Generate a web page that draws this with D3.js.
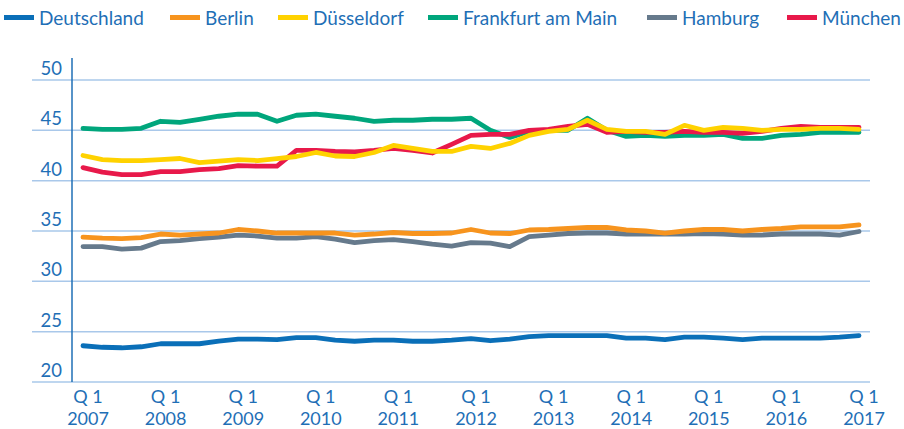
<!DOCTYPE html>
<html>
<head>
<meta charset="utf-8">
<script src="https://cdn.jsdelivr.net/npm/d3@7"></script>
<style>
  body { margin: 0; background: #fff; }
  text { font-family: Lato, "Open Sans", sans-serif; fill: #1f6fb6; }
</style>
</head>
<body>
<div class="chart"></div>
<script>
var w = 904;
var h = 429;

var years = ["2007", "2008", "2009", "2010", "2011", "2012", "2013", "2014", "2015", "2016", "2017"];
var yTicks = [20, 25, 30, 35, 40, 45, 50];

var names = ["Deutschland", "Berlin", "Düsseldorf", "Frankfurt am Main", "Hamburg", "München"];
var colors = ["#0a6fb8", "#f7941e", "#ffd200", "#00a67c", "#667a8c", "#e8194a"];

var deutschland = [23.6, 23.45, 23.4, 23.5, 23.8, 23.8, 23.8, 24.05, 24.25, 24.25, 24.2, 24.4, 24.4, 24.15, 24.05, 24.15, 24.15, 24.05, 24.05, 24.15,
  24.3, 24.1, 24.25, 24.5, 24.6, 24.6, 24.6, 24.6, 24.35, 24.35, 24.2, 24.45, 24.45, 24.35, 24.2, 24.35, 24.35, 24.35, 24.35, 24.45, 24.6];
var berlin = [34.4, 34.3, 34.25, 34.35, 34.7, 34.6, 34.7, 34.8, 35.15, 35.0, 34.8, 34.8, 34.8, 34.8, 34.6, 34.7, 34.85, 34.75, 34.75, 34.8,
  35.15, 34.8, 34.75, 35.1, 35.15, 35.25, 35.35, 35.35, 35.1, 35.0, 34.8, 35.0, 35.15, 35.15, 35.0, 35.15, 35.25, 35.4, 35.4, 35.4, 35.6];
var duesseldorf = [42.5, 42.1, 42.0, 42.0, 42.1, 42.2, 41.8, 41.95, 42.1, 42.0, 42.2, 42.4, 42.8, 42.45, 42.4, 42.8, 43.5, 43.2, 42.9, 42.9,
  43.4, 43.2, 43.7, 44.5, 44.9, 45.1, 46.0, 45.1, 44.9, 44.9, 44.6, 45.5, 45.0, 45.3, 45.2, 45.0, 45.1, 45.1, 45.2, 45.2, 45.1];
var frankfurt = [45.2, 45.1, 45.1, 45.2, 45.9, 45.8, 46.1, 46.4, 46.6, 46.6, 45.9, 46.5, 46.6, 46.4, 46.2, 45.9, 46.0, 46.0, 46.1, 46.1,
  46.2, 45.0, 44.3, 44.9, 45.0, 45.0, 46.2, 45.0, 44.4, 44.5, 44.4, 44.5, 44.5, 44.6, 44.2, 44.2, 44.5, 44.6, 44.8, 44.8, 44.8];
var hamburg = [33.45, 33.45, 33.2, 33.3, 33.95, 34.05, 34.25, 34.4, 34.6, 34.5, 34.3, 34.3, 34.45, 34.2, 33.85, 34.05, 34.15, 33.95, 33.7, 33.5,
  33.85, 33.8, 33.45, 34.45, 34.6, 34.75, 34.8, 34.8, 34.7, 34.7, 34.7, 34.7, 34.75, 34.7, 34.6, 34.6, 34.7, 34.7, 34.7, 34.6, 34.95];
var muenchen = [41.3, 40.85, 40.6, 40.6, 40.9, 40.9, 41.1, 41.2, 41.5, 41.45, 41.45, 43.0, 43.0, 42.9, 42.85, 43.0, 43.2, 43.0, 42.75, 43.6,
  44.5, 44.6, 44.6, 45.0, 45.1, 45.4, 45.6, 44.8, 44.9, 44.8, 44.8, 44.9, 44.8, 44.8, 44.7, 44.9, 45.2, 45.4, 45.3, 45.3, 45.3];

var seriesValues = [deutschland, berlin, duesseldorf, frankfurt, hamburg, muenchen];
// drawing order, last one on top
var drawOrder = [0, 4, 3, 5, 1, 2];
// legend item left edges
var legendX = [4, 170, 278, 428, 647, 787];

var xScale = d3.scaleLinear()
    .domain([0, deutschland.length - 1])
    .range([83, 859]);

var yScale = d3.scaleLinear()
    .domain([20, 50])
    .range([382, 80]);

var svg = d3.select(".chart")
    .append("svg")
    .attr("width", w)
    .attr("height", h);

// gridlines
svg.selectAll("line.grid")
    .data(yTicks)
    .enter()
    .append("line")
    .attr("class", "grid")
    .attr("x1", 32)
    .attr("x2", 870)
    .attr("y1", function(d) { return yScale(d); })
    .attr("y2", function(d) { return yScale(d); })
    .attr("stroke", "#a9c8ea")
    .attr("stroke-width", 1.5);

svg.selectAll("text.ytick")
    .data(yTicks)
    .enter()
    .append("text")
    .attr("class", "ytick")
    .attr("x", 62)
    .attr("y", function(d) { return yScale(d) - 5; })
    .attr("text-anchor", "end")
    .style("font-size", "18.5px")
    .text(function(d) { return d; });

// vertical axis line
svg.append("line")
    .attr("x1", 72)
    .attr("x2", 72)
    .attr("y1", 58)
    .attr("y2", yScale(20))
    .attr("stroke", "#1f6fb6")
    .attr("stroke-width", 1.5);

// x labels
var xl = svg.selectAll("text.xtick")
    .data(years)
    .enter()
    .append("text")
    .attr("class", "xtick")
    .attr("text-anchor", "middle")
    .style("font-size", "18px")
    .attr("transform", function(d, i) {
        return "translate(" + (xScale(i * 4) + 5) + ",0)";
    });
xl.append("tspan").attr("x", 0).attr("y", 403).text("Q 1");
xl.append("tspan").attr("x", 0).attr("y", 425).text(function(d) { return d; });

var line = d3.line()
    .x(function(d, i) { return xScale(i); })
    .y(function(d) { return yScale(d); });

svg.selectAll("path.series")
    .data(drawOrder)
    .enter()
    .append("path")
    .attr("class", "series")
    .attr("d", function(k) { return line(seriesValues[k]); })
    .attr("fill", "none")
    .attr("stroke", function(k) { return colors[k]; })
    .attr("stroke-width", 4.8)
    .attr("stroke-linejoin", "round")
    .attr("stroke-linecap", "round");

// legend
var legend = svg.selectAll("g.legend")
    .data(names)
    .enter()
    .append("g")
    .attr("class", "legend")
    .attr("transform", function(d, i) { return "translate(" + legendX[i] + ",0)"; });

legend.append("rect")
    .attr("x", 0)
    .attr("y", 15)
    .attr("width", 30)
    .attr("height", 5)
    .attr("fill", function(d, i) { return colors[i]; });

legend.append("text")
    .attr("x", 35)
    .attr("y", 25)
    .style("font-size", "19px")
    .text(function(d) { return d; });
</script>
</body>
</html>
